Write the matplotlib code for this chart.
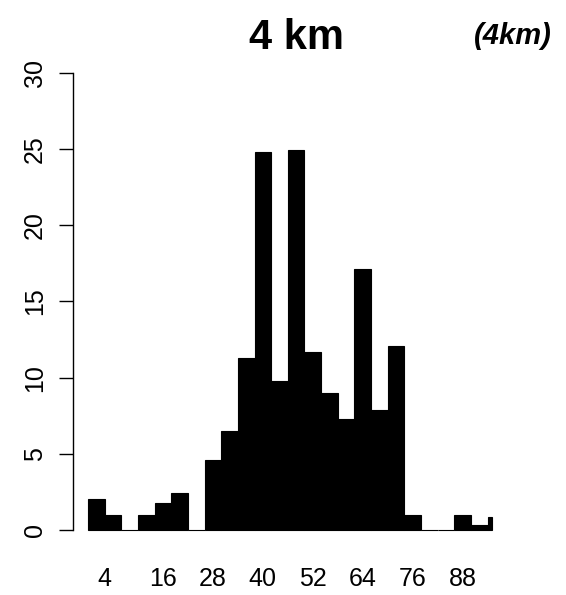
import matplotlib
matplotlib.use("Agg")
import matplotlib.pyplot as plt
import numpy as np

plt.rcParams['font.family'] = ['Liberation Sans', 'DejaVu Sans']

# 4 km bins over 0-96, plus a short tail bin at the end
bin_edges = [0, 4, 8, 12, 16, 20, 24, 28, 32, 36, 40, 44, 48,
             52, 56, 60, 64, 68, 72, 76, 80, 84, 88, 92, 96, 97]
counts = [2.05, 1.0, 0, 1.0, 1.8, 2.4, 0, 4.6, 6.5, 11.3, 24.8, 9.8, 24.9,
          11.7, 9.0, 7.25, 17.1, 7.9, 12.1, 1.0, 0, 0, 1.0, 0.3, 0.87]

x_labels = ['4', '16', '28', '40', '52', '64', '76', '88']
x_label_at = [4, 18, 30, 42, 54, 66, 78, 90]
y_ticks = [0, 5, 10, 15, 20, 25, 30]

W, H = 566, 595
fig = plt.figure(figsize=(W / 100, H / 100), dpi=100)
ax = fig.add_axes([72.7 / W, 65 / H, (500 - 72.7) / W, (530 - 72.7) / H])

edges = np.array(bin_edges, dtype=float)
ax.bar(edges[:-1], counts, width=np.diff(edges), align='edge',
       color='black', edgecolor='black', linewidth=0.8, clip_on=False)

ax.set_xlim(-3.675, 98.97)
ax.set_ylim(0, 30)

for s in ['top', 'right', 'bottom']:
    ax.spines[s].set_visible(False)
ax.spines['left'].set_linewidth(1.0)

ax.set_yticks(y_ticks)
ax.set_yticklabels([str(v) for v in y_ticks], rotation=90, va='center')
ax.tick_params(axis='y', length=10.4, width=1.0, pad=8, labelsize=18)

ax.set_xticks(x_label_at)
ax.set_xticklabels(x_labels)
ax.tick_params(axis='x', length=0, pad=27, labelsize=18)

fig.text(296 / W, 1 - 38 / H, '4 km', fontsize=30, fontweight='bold',
         ha='center', va='center')
fig.text(513 / W, 1 - 36 / H, '(4km)', fontsize=21, fontweight='bold',
         fontstyle='italic', ha='center', va='center')

fig.savefig('out.png', dpi=100)
